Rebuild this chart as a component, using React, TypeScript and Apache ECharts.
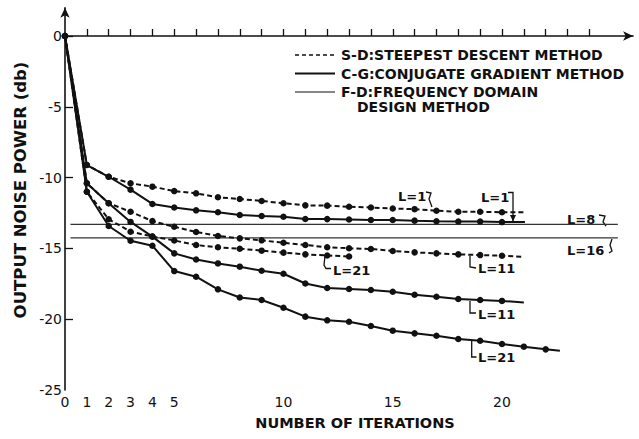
import React, { useEffect, useRef } from 'react';
import * as echarts from 'echarts';

// ---------- data ----------
const xTickValues = [1, 2, 3, 4, 5, 6, 7, 8, 9, 10, 11, 12, 13, 14, 15, 16, 17, 18, 19, 20, 21, 22, 23, 24];
const xLabelValues = [0, 1, 2, 3, 4, 5, 10, 15, 20];
const yLabelValues = [-25, -20, -15, -10, -5, 0];
const yTickValues = [-20, -15, -10, -5, 0];

// values at iterations 0,1,2,...
const sdL1 = [0, -9.11, -9.94, -10.4, -10.64, -10.95, -11.11, -11.39, -11.51, -11.65, -11.81, -11.96, -11.98, -12.06, -12.11, -12.18, -12.23, -12.34, -12.41, -12.41, -12.45];
const sdL1End = [21, -12.45];
const cgL1 = [0, -9.11, -9.94, -10.85, -11.86, -12.11, -12.31, -12.45, -12.64, -12.71, -12.76, -12.92, -12.93, -12.96, -12.99, -12.99, -13.04, -13.08, -13.1, -13.1, -13.14];
const cgL1End = [21.05, -13.14];
const sdL11 = [0, -10.4, -11.81, -12.41, -13.07, -13.47, -13.84, -14.12, -14.29, -14.43, -14.6, -14.76, -14.92, -14.99, -15.04, -15.18, -15.28, -15.35, -15.42, -15.47, -15.52];
const sdL11End = [21, -15.59];
const cgL11 = [0, -10.4, -11.81, -13.13, -14.17, -15.35, -15.78, -16.06, -16.29, -16.58, -16.79, -17.48, -17.8, -17.87, -17.94, -18.06, -18.27, -18.41, -18.57, -18.64, -18.71];
const cgL11End = [21, -18.82];
const sdL21 = [0, -11.0, -12.94, -13.82, -14.16, -14.44, -14.76, -14.92, -15.02, -15.16, -15.3, -15.42, -15.5, -15.57];
const cgL21 = [0, -11.0, -13.42, -14.46, -14.81, -16.6, -17.0, -17.89, -18.47, -18.64, -19.19, -19.82, -20.08, -20.18, -20.48, -20.81, -21.0, -21.17, -21.4, -21.52, -21.75, -21.94, -22.13];
const cgL21End = [22.65, -22.22];
const fdL8 = -13.3;
const fdL16 = -14.25;
const fdRange = [0.25, 25.3];

const legendItems = ['S-D:STEEPEST DESCENT METHOD', 'C-G:CONJUGATE GRADIENT METHOD', 'F-D:FREQUENCY DOMAIN', 'DESIGN METHOD'];

const INK = '#111';
const FONT = '"DejaVu Sans", sans-serif';

function toPoints(values: number[], end?: number[]) {
  const pts: any[] = values.map((v, i) => [i, v]);
  if (end) pts.push({ value: end, symbol: 'none' });
  return pts;
}

function curve(name: string, data: any[], dashed: boolean) {
  return {
    type: 'line',
    name,
    data,
    symbol: 'circle',
    symbolSize: 6.5,
    showAllSymbol: true,
    lineStyle: { color: INK, width: 2, type: dashed ? [5, 3] : 'solid' },
    itemStyle: { color: INK },
    z: 3,
  };
}

function flat(name: string, v: number) {
  return {
    type: 'line',
    name,
    data: [[fdRange[0], v], [fdRange[1], v]],
    showSymbol: false,
    symbol: 'none',
    lineStyle: { color: '#333', width: 1.3 },
    z: 2,
  };
}

function txt(text: string, x: number, y: number, size = 13, align = 'left') {
  return {
    type: 'text',
    x,
    y,
    style: {
      text,
      fill: INK,
      fontSize: size,
      fontFamily: FONT,
      fontWeight: 'bold',
      align,
      verticalAlign: 'middle',
      textAlign: align,
      textVerticalAlign: 'middle',
    },
  };
}

function hook(points: number[][]) {
  return {
    type: 'polyline',
    shape: { points },
    style: { stroke: INK, lineWidth: 1.3, fill: 'none' },
  };
}

export default function App() {
  const ref = useRef<HTMLDivElement>(null);
  useEffect(() => {
    if (!ref.current) return;
    const chart = echarts.init(ref.current, null, { renderer: 'svg' });
    const option: any = {
      animation: false,
      backgroundColor: '#fff',
      grid: { left: 65, right: 5.9, top: 7.7, bottom: 49, containLabel: false },
      xAxis: {
        type: 'value',
        min: 0,
        max: 26,
        interval: 1,
        axisLine: { show: true, lineStyle: { color: INK, width: 1.6 }, symbol: ['none', 'arrow'], symbolSize: [7, 10] },
        axisTick: { show: true, inside: true, length: 7, lineStyle: { color: INK, width: 1.3 }, customValues: xTickValues },
        axisLabel: { color: INK, fontSize: 14, fontFamily: FONT, margin: 5, customValues: xLabelValues },
        splitLine: { show: false },
      },
      yAxis: {
        type: 'value',
        min: -25,
        max: 2,
        interval: 5,
        axisLine: { show: true, lineStyle: { color: INK, width: 1.6 }, symbol: ['none', 'arrow'], symbolSize: [7, 10] },
        axisTick: { show: true, inside: true, length: 8, lineStyle: { color: INK, width: 1.3 }, customValues: yTickValues },
        axisLabel: { color: INK, fontSize: 14, fontFamily: FONT, margin: 3, customValues: yLabelValues },
        splitLine: { show: false },
      },
      series: [
        flat('F-D L=8', fdL8),
        flat('F-D L=16', fdL16),
        curve('S-D L=1', toPoints(sdL1, sdL1End), true),
        curve('C-G L=1', toPoints(cgL1, cgL1End), false),
        curve('S-D L=11', toPoints(sdL11, sdL11End), true),
        curve('C-G L=11', toPoints(cgL11, cgL11End), false),
        curve('S-D L=21', toPoints(sdL21), true),
        curve('C-G L=21', toPoints(cgL21, cgL21End), false),
      ],
      graphic: [
        // legend
        { type: 'line', shape: { x1: 295, y1: 55, x2: 335, y2: 55 }, style: { stroke: INK, lineWidth: 1.5, lineDash: [4, 3] } },
        { type: 'line', shape: { x1: 295, y1: 73.5, x2: 335, y2: 73.5 }, style: { stroke: INK, lineWidth: 2 } },
        { type: 'line', shape: { x1: 295, y1: 92, x2: 335, y2: 92 }, style: { stroke: INK, lineWidth: 1.2 } },
        txt(legendItems[0], 341, 55, 14),
        txt(legendItems[1], 341, 73.5, 14),
        txt(legendItems[2], 341, 92, 14),
        txt(legendItems[3], 357, 107, 14),
        // axis titles
        {
          type: 'text',
          x: 20,
          y: 190,
          rotation: Math.PI / 2,
          style: { text: 'OUTPUT NOISE POWER (db)', fill: INK, fontSize: 16.5, fontFamily: FONT, fontWeight: 'bold', align: 'center', verticalAlign: 'middle', textAlign: 'center', textVerticalAlign: 'middle' },
        },
        txt('NUMBER OF ITERATIONS', 355, 423, 14.5, 'center'),
        // annotations
        txt('L=1', 398, 196, 13),
        hook([[426, 192], [431, 193], [429, 199], [432, 207]]),
        txt('L=1', 481, 197, 13),
        hook([[508, 192.5], [513, 192.5], [513, 221]]),
        { type: 'polygon', shape: { points: [[510, 215], [516, 215], [513, 221.5]] }, style: { fill: INK } },
        txt('L=8', 567, 219, 13),
        hook([[599, 215], [605, 216], [603, 222], [606, 226]]),
        txt('L=16', 567, 250, 13),
        hook([[609, 253], [612, 251], [610, 245], [612, 239]]),
        txt('L=21', 333, 270, 13),
        hook([[325, 256], [324, 265], [326, 268.5], [331, 268.5]]),
        txt('L=11', 478, 268.5, 13),
        hook([[470, 256], [470, 267], [476, 268]]),
        txt('L=11', 478, 314.5, 13),
        hook([[470, 301], [470, 313], [476, 313]]),
        txt('L=21', 478, 357, 13),
        hook([[471.7, 341], [471.7, 357], [476.5, 357]]),
      ],
    };
    chart.setOption(option);
    return () => chart.dispose();
  }, []);
  return <div ref={ref} style={{ position: 'fixed', left: 0, top: 0, width: 639, height: 439, background: '#fff' }} />;
}
